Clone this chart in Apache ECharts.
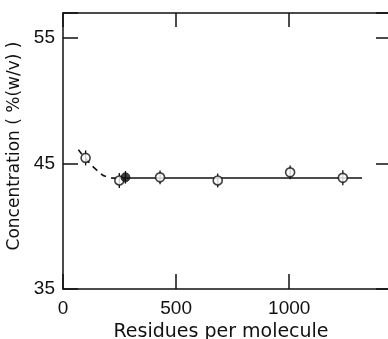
<!DOCTYPE html>
<html>
<head>
<meta charset="utf-8">
<script src="https://cdn.jsdelivr.net/npm/echarts@6/dist/echarts.min.js"></script>
<style>html,body{margin:0;padding:0;background:#fff;}#c{width:388px;height:339px;}</style>
</head>
<body>
<div id="c"></div>
<script>
var xName = 'Residues per molecule';
var yName = 'Concentration ( %(w/v) )';
var xTicks = [0, 500, 1000];
var yTicks = [35, 45, 55];
var openPts = [[100, 45.45], [249, 43.65], [429, 43.9], [684, 43.65], [1004, 44.3], [1237, 43.86]];
var filledPts = [[276, 43.9]];
var errHalf = [0.6, 0.6, 0.55, 0.55, 0.55, 0.6];
var filledErr = [0.5];
var solidLine = [[260, 43.85], [1322, 43.85]];
var dashedCurve = [[68, 46.1], [100, 45.4], [148, 44.5], [197, 43.92], [230, 43.84], [260, 43.85]];

var chart = echarts.init(document.getElementById('c'));
var ink = '#111';
var tickFont = {color: ink, fontSize: 19, fontFamily: 'Liberation Sans'};
function fmtX(v){ return xTicks.indexOf(v) >= 0 ? String(v) : ''; }
function fmtY(v){ return yTicks.indexOf(v) >= 0 ? String(v) : ''; }
var errData = openPts.map(function(p, i){ return [p[0], p[1] - errHalf[i], p[1] + errHalf[i]]; })
  .concat(filledPts.map(function(p, i){ return [p[0], p[1] - filledErr[i], p[1] + filledErr[i]]; }));

chart.setOption({
  animation: false,
  backgroundColor: '#fff',
  grid: {left: 63, top: 13, width: 328, height: 276, containLabel: false, outerBoundsMode: 'none'},
  xAxis: [
    {type: 'value', min: 0, max: 1450, interval: 500, position: 'bottom',
     name: xName, nameLocation: 'middle', nameGap: 33,
     nameTextStyle: {color: ink, fontSize: 19, fontFamily: 'DejaVu Sans', padding: [0, 12, 0, 0]},
     axisLine: {show: true, lineStyle: {color: ink, width: 1.5}},
     axisTick: {show: true, inside: true, length: 15, lineStyle: {color: ink, width: 1.5}},
     axisLabel: Object.assign({margin: 10, formatter: fmtX}, tickFont),
     splitLine: {show: false}},
    {type: 'value', min: 0, max: 1450, interval: 500, position: 'top',
     axisLine: {show: true, onZero: false, lineStyle: {color: ink, width: 1.5}},
     axisTick: {show: true, inside: true, length: 14, lineStyle: {color: ink, width: 1.5}},
     axisLabel: {show: false}, splitLine: {show: false}}
  ],
  yAxis: [
    {type: 'value', min: 35, max: 57, interval: 10, position: 'left',
     name: yName, nameLocation: 'middle', nameGap: 34, nameRotate: 90,
     nameTextStyle: {color: ink, fontSize: 17, fontFamily: 'DejaVu Sans', padding: [0, 0, 0, 10]},
     axisLine: {show: true, onZero: false, lineStyle: {color: ink, width: 1.5}},
     axisTick: {show: true, inside: true, length: 15, lineStyle: {color: ink, width: 1.5}},
     axisLabel: Object.assign({margin: 8, formatter: fmtY}, tickFont),
     splitLine: {show: false}},
    {type: 'value', min: 35, max: 57, interval: 10, position: 'right',
     axisLine: {show: true, onZero: false, lineStyle: {color: ink, width: 1.5}},
     axisTick: {show: true, inside: true, length: 15, lineStyle: {color: ink, width: 1.5}},
     axisLabel: {show: false}, splitLine: {show: false}}
  ],
  series: [
    {type: 'line', data: dashedCurve, smooth: 0.5, symbol: 'none',
     lineStyle: {color: ink, width: 1.6, type: [6, 5]}},
    {type: 'line', data: solidLine, symbol: 'none',
     lineStyle: {color: ink, width: 1.6}},
    {type: 'custom', data: errData,
     renderItem: function(params, api){
       var top = api.coord([api.value(0), api.value(2)]);
       var bot = api.coord([api.value(0), api.value(1)]);
       return {type: 'line', shape: {x1: top[0], y1: top[1], x2: bot[0], y2: bot[1]},
               style: {stroke: ink, lineWidth: 1.3}};
     }, z: 3},
    {type: 'scatter', data: openPts, symbol: 'circle', symbolSize: 9,
     itemStyle: {color: '#fff', borderColor: ink, borderWidth: 1.6}, z: 4},
    {type: 'scatter', data: filledPts, symbol: 'circle', symbolSize: 9,
     itemStyle: {color: ink, borderColor: ink, borderWidth: 1}, z: 4}
  ]
});
</script>
</body>
</html>
